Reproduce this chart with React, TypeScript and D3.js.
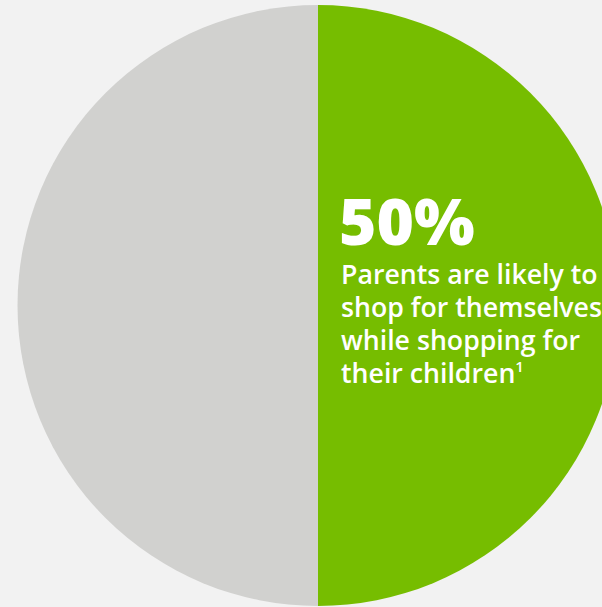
import React from "react";
import * as d3 from "d3";

const categories = ["Shop for themselves", "Other"];
const values = [50, 50];
const colors = ["#76bd00", "#d1d1cf"];
const headline = "50%";
const bodyLines = ["Parents are likely to", "shop for themselves", "while shopping for", "their children"];
const footnote = "1";

export default function App() {
  const W = 602, H = 607;
  const cx = 318, cy = 305.5, r = 300.5;
  const pie = d3.pie<number>().sort(null).value((d) => d);
  const arcs = pie(values);
  const arc = d3.arc<d3.PieArcDatum<number>>().innerRadius(0).outerRadius(r);
  const font = "'Open Sans', 'Noto Sans', sans-serif";
  return (
    <svg width={W} height={H} style={{ position: "absolute", left: 0, top: 0, display: "block" }}>
      <rect x={0} y={0} width={W} height={H} fill="#f2f2f2" />
      <g transform={`translate(${cx},${cy})`}>
        {arcs.map((a, i) => (
          <path key={categories[i]} d={arc(a) || ""} fill={colors[i]} />
        ))}
      </g>
      <text x={339} y={245} fill="#fff" fontFamily={font} fontWeight={800} fontSize={64}>
        {headline}
      </text>
      <text x={341} fill="#fff" fontFamily={font} fontWeight={600} fontSize={26.7}>
        {bodyLines.map((l, i) => (
          <tspan key={i} x={341} y={284 + i * 33}>
            {l}
            {i === bodyLines.length - 1 ? (
              <tspan fontSize={15} dy={-11}>{footnote}</tspan>
            ) : null}
          </tspan>
        ))}
      </text>
    </svg>
  );
}
